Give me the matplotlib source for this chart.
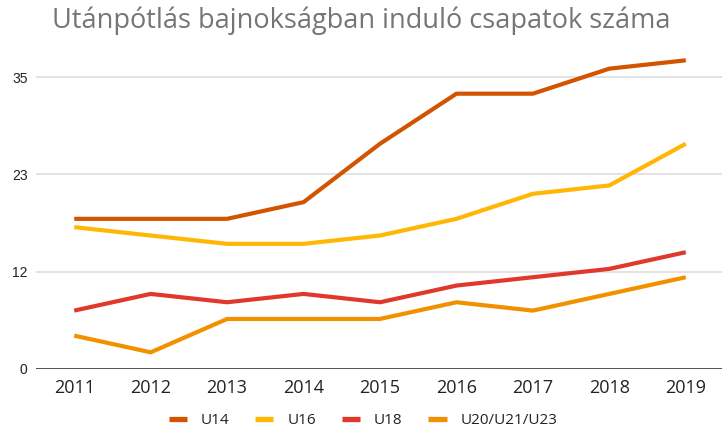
import matplotlib
matplotlib.use("Agg")
import matplotlib.pyplot as plt
from matplotlib.lines import Line2D

years = ["2011", "2012", "2013", "2014", "2015", "2016", "2017", "2018", "2019"]
u14 = [18, 18, 18, 20, 27, 33, 33, 36, 37]
u16 = [17, 16, 15, 15, 16, 18, 21, 22, 27]
u18 = [7, 9, 8, 9, 8, 10, 11, 12, 14]
u20 = [4, 2, 6, 6, 6, 8, 7, 9, 11]
series_names = ["U14", "U16", "U18", "U20/U21/U23"]
yticks = [0, 35 / 3, 70 / 3, 35]
ytick_labels = ["0", "12", "23", "35"]
title = "Utánpótlás bajnokságban induló csapatok száma"

colors = ["#D35400", "#FFB703", "#E0382C", "#F29100"]

fig = plt.figure(figsize=(7.22, 4.30), dpi=100)
ax = fig.add_axes([36 / 722, 1 - 369 / 430, 1 - 36 / 722 + 2 / 722, (369 - 48) / 430])

x = list(range(len(years)))
for vals, c, n in zip([u14, u16, u18, u20], colors, series_names):
    ax.plot(x, vals, color=c, lw=3.0, solid_capstyle="butt", solid_joinstyle="round", label=n, zorder=3)

ax.set_xlim(-0.5, len(years) - 0.5)
ax.set_ylim(0, (369 - 48) / (292 / 35))
ax.set_yticks(yticks)
ax.set_yticklabels(ytick_labels, fontfamily="Liberation Sans", fontsize=10, color="#222222")
ax.set_xticks(x)
ax.set_xticklabels(years, fontfamily="Open Sans", fontsize=13, color="#222222")
ax.tick_params(axis="both", length=0)
ax.tick_params(axis="y", pad=6)
ax.tick_params(axis="x", pad=7)
for s in ax.spines.values():
    s.set_visible(False)
for yv in yticks[1:]:
    ax.axhline(yv, color="#e0e0e0", lw=1.3, zorder=1)
ax.axhline(0, color="#444444", lw=1.3, zorder=2)

fig.text(0.5, 1 - 21 / 430, title, ha="center", va="center", fontfamily="Open Sans",
         fontsize=19.5, color="#757575")

handles = [Line2D([0], [0], color=c, lw=3.8, solid_capstyle="butt") for c in colors]
fig.legend(handles, series_names, loc="center", bbox_to_anchor=(363 / 722, 1 - 421 / 430),
           ncol=4, frameon=False, handlelength=1.18, columnspacing=1.7, handletextpad=0.92,
           borderpad=0, prop={"family": "Open Sans", "size": 11}, labelcolor="#222222")

fig.savefig("out.png", dpi=100, facecolor="white")
